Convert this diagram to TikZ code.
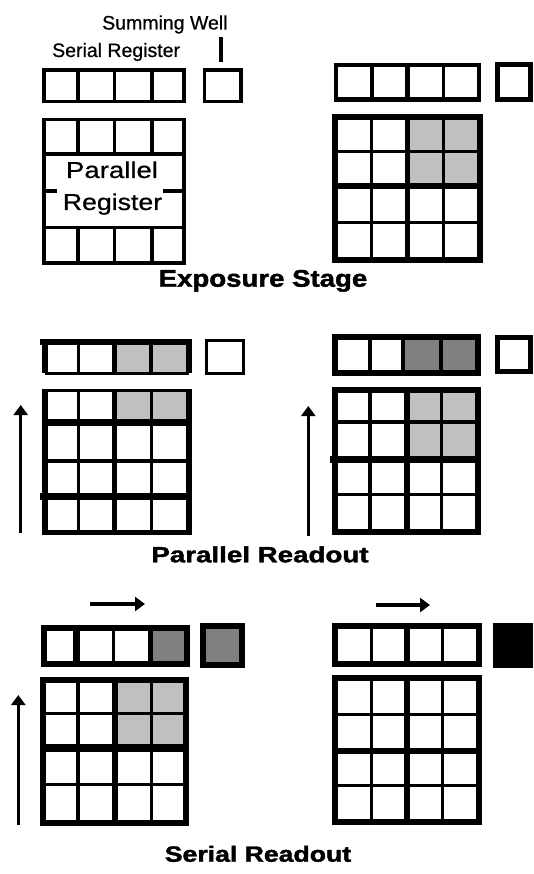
\documentclass[tikz,border=0pt]{standalone}
\usepackage{fontspec}
\usepackage{graphicx}
\setmainfont{Liberation Sans}
\newfontfamily\heavyfont[FakeBold=1.6]{Liberation Sans Bold}
\newfontfamily\medfont[FakeBold=0.6]{Liberation Sans}
\usetikzlibrary{arrows.meta}
\definecolor{lgrey}{HTML}{C0C0C0}
\definecolor{dgrey}{HTML}{808080}
\tikzset{
  tA/.style={line width=3.3pt},
  tB/.style={line width=4.3pt},
  tC/.style={line width=5pt},
  tD/.style={line width=6pt},
  tE/.style={line width=6.7pt},
  tF/.style={line width=8pt},
  arr/.style={line width=3.3pt,-{Triangle[width=14pt,length=10pt]}},
  lbl/.style={inner sep=0pt,anchor=base west,font=\medfont\fontsize{19.5}{20}\selectfont},
  inlbl/.style={inner sep=0pt,anchor=base,font=\medfont\fontsize{23}{24}\selectfont},
  head/.style={inner sep=0pt,anchor=base,font=\heavyfont\fontsize{#1}{#1}\selectfont},
}
\begin{document}
\begin{tikzpicture}[x=1pt,y=-1pt]
\useasboundingbox[fill=white] (0,0) rectangle (533,874);

% ---------------- Panel 1 (Exposure, left) ----------------
\node[lbl] (swlabel) at (102,29.5) {Summing Well};
\node[lbl] (srlabel) at (52,57) {Serial Register};
\coordinate (swl1) at (221,37);
\coordinate (swl2) at (221,62);
\draw[tA] (swl1) -- (swl2);
\draw[tA] (44,70) rectangle (184,101.5);
\draw[tA] (78,70) -- (78,101.5) (114.7,70) -- (114.7,101.5) (152,70) -- (152,101.5);
\draw[tA] (204.7,70) rectangle (241,101.5);
\draw[tA] (44,119.7) rectangle (184,263);
\draw[tA] (44,154) -- (184,154) (44,227.5) -- (184,227.5);
\draw[tA] (44,191) -- (57,191) (163,191) -- (184,191);
\draw[tA] (78,119.7) -- (78,154) (114.7,119.7) -- (114.7,154) (152,119.7) -- (152,154);
\draw[tA] (78,227.5) -- (78,263) (114.7,227.5) -- (114.7,263) (152,227.5) -- (152,263);
\node[inlbl] (plbl1) at (112,178) {\scalebox{1.2}[1]{Parallel}};
\node[inlbl] (plbl2) at (112.5,210) {\scalebox{1.16}[1]{Register}};

% ---------------- Panel 2 (Exposure, right) ----------------
\draw[tB] (336.3,64.7) rectangle (478.7,99.5);
\draw[tA] (372,64.7) -- (372,99.5) (443.3,64.7) -- (443.3,99.5);
\draw[tC] (407.8,64.7) -- (407.8,99.5);
\draw[tC] (497.7,64.7) rectangle (530.5,99.5);
\fill[lgrey] (407.5,117) rectangle (479.7,185.7);
\draw[tA] (335.3,151.7) -- (479.7,151.7) (335.3,222.7) -- (479.7,222.7);
\draw[tA] (371.7,117) -- (371.7,259.7) (443.3,117) -- (443.3,259.7);
\draw[tD] (335.3,185.7) -- (479.7,185.7);
\draw[tC] (407.5,117) -- (407.5,259.7);
\draw[tD] (335.3,117) rectangle (479.7,259.7);

\node[head=24] (h1) at (263,286.7) {\scalebox{1.15}[1]{Exposure Stage}};

% ---------------- Panel 3 (Parallel readout, left) ----------------
\fill[lgrey] (114,342) rectangle (188.8,373.3);
\draw[tA] (45,373.3) -- (188.8,373.3);
\draw[tA] (78.3,342) -- (78.3,373.3) (151,342) -- (151,373.3);
\draw[tC] (114,342) -- (114,373.3);
\draw[tD] (45,342) -- (45,373.3) (188.8,342) -- (188.8,373.3);
\draw[tD] (40,342) -- (191.8,342);
\draw[tA] (206.7,340.7) rectangle (243.3,373.3);
\fill[lgrey] (114,390.7) rectangle (188.8,422.7);
\draw[tA] (45,390.7) -- (188.8,390.7);
\draw[tA] (45,461) -- (188.8,461);
\draw[tA] (78.3,390.7) -- (78.3,532.5) (151.3,390.7) -- (151.3,532.5);
\draw[tC] (114,390.7) -- (114,532.5);
\draw[tE] (45,422.7) -- (188.8,422.7);
\draw[tE] (40,496.7) -- (188.8,496.7);
\draw[tC] (42,532.5) -- (191.8,532.5);
\draw[tD] (45,389) -- (45,535) (188.8,389) -- (188.8,535);
\coordinate (a3s) at (20.7,533);
\coordinate (a3e) at (20.7,405);
\draw[arr] (a3s) -- (a3e);

% ---------------- Panel 4 (Parallel readout, right) ----------------
\fill[dgrey] (403.3,337) rectangle (477.8,372.5);
\draw[tA] (370,337) -- (370,372.5) (441,337) -- (441,372.5);
\draw[tB] (403.3,337) -- (403.3,372.5);
\draw[tD] (335.3,337) rectangle (477.8,372.5);
\draw[tC] (497.7,337.5) rectangle (530.8,371.7);
\fill[lgrey] (406.7,389.7) rectangle (477.8,459.3);
\draw[tA] (335.3,422) -- (477.8,422) (335.3,494.7) -- (477.8,494.7);
\draw[tA] (370,389.7) -- (370,532) (441.7,389.7) -- (441.7,532);
\draw[tE] (330,459.3) -- (477.8,459.3);
\draw[tD] (406.7,389.7) -- (406.7,532);
\draw[tD] (335.3,389.7) rectangle (477.8,532);
\coordinate (a4s) at (308.3,536);
\coordinate (a4e) at (308.3,406);
\draw[arr] (a4s) -- (a4e);

\node[head=22] (h2) at (260,562.3) {\scalebox{1.26}[1]{Parallel Readout}};

% ---------------- Panel 5 (Serial readout, left) ----------------
\coordinate (a5hs) at (90,604);
\coordinate (a5he) at (145,604);
\draw[arr] (a5hs) -- (a5he);
\fill[dgrey] (150.8,628) rectangle (186.7,664);
\draw[tA] (113.3,628) -- (113.3,664);
\draw[tE] (76.7,628) -- (76.7,664);
\draw[tC] (150.8,628) -- (150.8,664);
\draw[tD] (44.2,628) rectangle (186.7,664);
\draw[tD,fill=dgrey] (202.5,626) rectangle (242,665);
\fill[lgrey] (114.5,680) rectangle (186,748.3);
\draw[tA] (43.3,713.8) -- (186,713.8) (43.3,784.7) -- (186,784.7);
\draw[tA] (78,680) -- (78,822.7) (151.2,680) -- (151.2,822.7);
\draw[tF] (43.3,748.3) -- (186,748.3);
\draw[tD] (114.5,680) -- (114.5,822.7);
\draw[tD] (43.3,680) rectangle (186,822.7);
\coordinate (a5s) at (18.3,825);
\coordinate (a5e) at (18.3,695);
\draw[arr] (a5s) -- (a5e);

% ---------------- Panel 6 (Serial readout, right) ----------------
\coordinate (a6hs) at (376,605);
\coordinate (a6he) at (430,605);
\draw[arr] (a6hs) -- (a6he);
\draw[tA] (371.2,626) -- (371.2,664.3) (442.8,626) -- (442.8,664.3);
\draw[tD] (406.7,626) -- (406.7,664.3);
\draw[tD] (335.3,626) rectangle (479.3,664.3);
\fill[black] (492.7,622.7) rectangle (533,667.7);
\draw[tA] (335.3,714.7) -- (479.3,714.7) (335.3,785.3) -- (479.3,785.3);
\draw[tA] (371.2,678.3) -- (371.2,822.3) (442.8,678.3) -- (442.8,822.3);
\draw[tD] (335.3,750.8) -- (479.3,750.8);
\draw[tD] (406.7,678.3) -- (406.7,822.3);
\draw[tD] (335.3,678.3) rectangle (479.3,822.3);

\node[head=22] (h3) at (258,861.7) {\scalebox{1.21}[1]{Serial Readout}};
\end{tikzpicture}
\end{document}
